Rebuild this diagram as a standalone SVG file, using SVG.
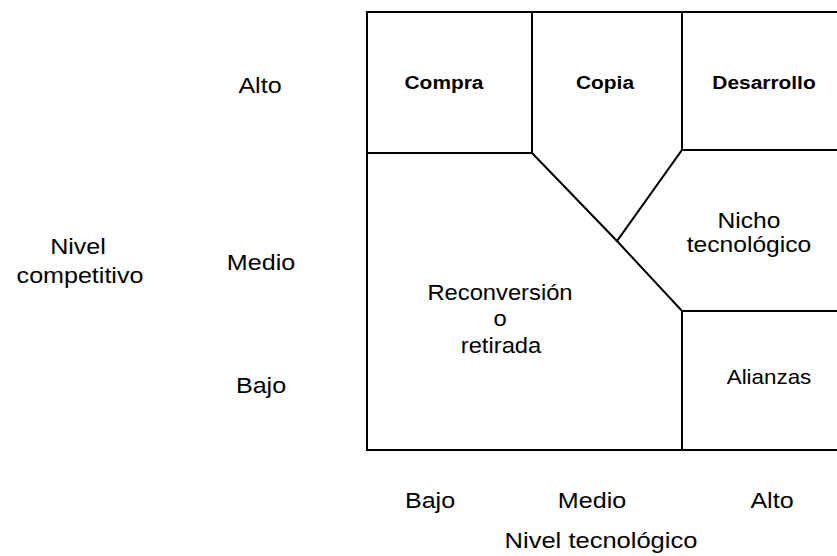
<svg xmlns="http://www.w3.org/2000/svg" width="837" height="556" viewBox="0 0 837 556">
  <style>
    text { font-family: "Liberation Sans", Arial, sans-serif; fill: #000; text-anchor: middle; }
    .lbl { font-size: 22px; }
    .cell { font-size: 19px; font-weight: bold; }
    .small { font-size: 20px; }
    .grid { fill: none; stroke: #000; stroke-width: 2; stroke-linejoin: miter; stroke-linecap: square; }
  </style>
  <rect width="837" height="556" fill="#fff"/>

  <!-- matrix outline and cell borders -->
  <g id="connectors" class="grid">
    <path d="M836,12 H367 V450 H836"/>
    <path d="M367,153 H532 V12"/>
    <path d="M682,12 V150 H836"/>
    <path d="M532,153 L617,241 L682,311 H836"/>
    <path d="M682,150 L617,241"/>
    <path d="M682,311 V450"/>
  </g>

  <!-- vertical axis -->
  <g id="axis-y">
    <text class="lbl" transform="translate(78,254) scale(1.14,1)">Nivel</text>
    <text class="lbl" transform="translate(80,283) scale(1.14,1)">competitivo</text>
    <text class="lbl" transform="translate(260,93) scale(1.14,1)">Alto</text>
    <text class="lbl" transform="translate(261,270) scale(1.14,1)">Medio</text>
    <text class="lbl" transform="translate(261,393) scale(1.14,1)">Bajo</text>
  </g>

  <!-- horizontal axis -->
  <g id="axis-x">
    <text class="lbl" transform="translate(430,508) scale(1.14,1)">Bajo</text>
    <text class="lbl" transform="translate(592,508) scale(1.14,1)">Medio</text>
    <text class="lbl" transform="translate(772,508) scale(1.14,1)">Alto</text>
    <text class="lbl" transform="translate(601,548) scale(1.16,1)">Nivel tecnológico</text>
  </g>

  <!-- strategy cells -->
  <g id="compra">
    <text class="cell" transform="translate(444,89) scale(1.1,1)">Compra</text>
  </g>
  <g id="copia">
    <text class="cell" transform="translate(605,89) scale(1.1,1)">Copia</text>
  </g>
  <g id="desarrollo">
    <text class="cell" transform="translate(764,89) scale(1.1,1)">Desarrollo</text>
  </g>
  <g id="nicho">
    <text class="lbl" transform="translate(749,228) scale(1.12,1)">Nicho</text>
    <text class="lbl" transform="translate(749,252) scale(1.12,1)">tecnológico</text>
  </g>
  <g id="reconversion">
    <text class="lbl" transform="translate(500,300) scale(1.08,1)">Reconversión</text>
    <text class="lbl" transform="translate(500,326) scale(1.08,1)">o</text>
    <text class="lbl" transform="translate(501,353) scale(1.08,1)">retirada</text>
  </g>
  <g id="alianzas">
    <text class="small" transform="translate(769,384) scale(1.12,1)">Alianzas</text>
  </g>
</svg>
